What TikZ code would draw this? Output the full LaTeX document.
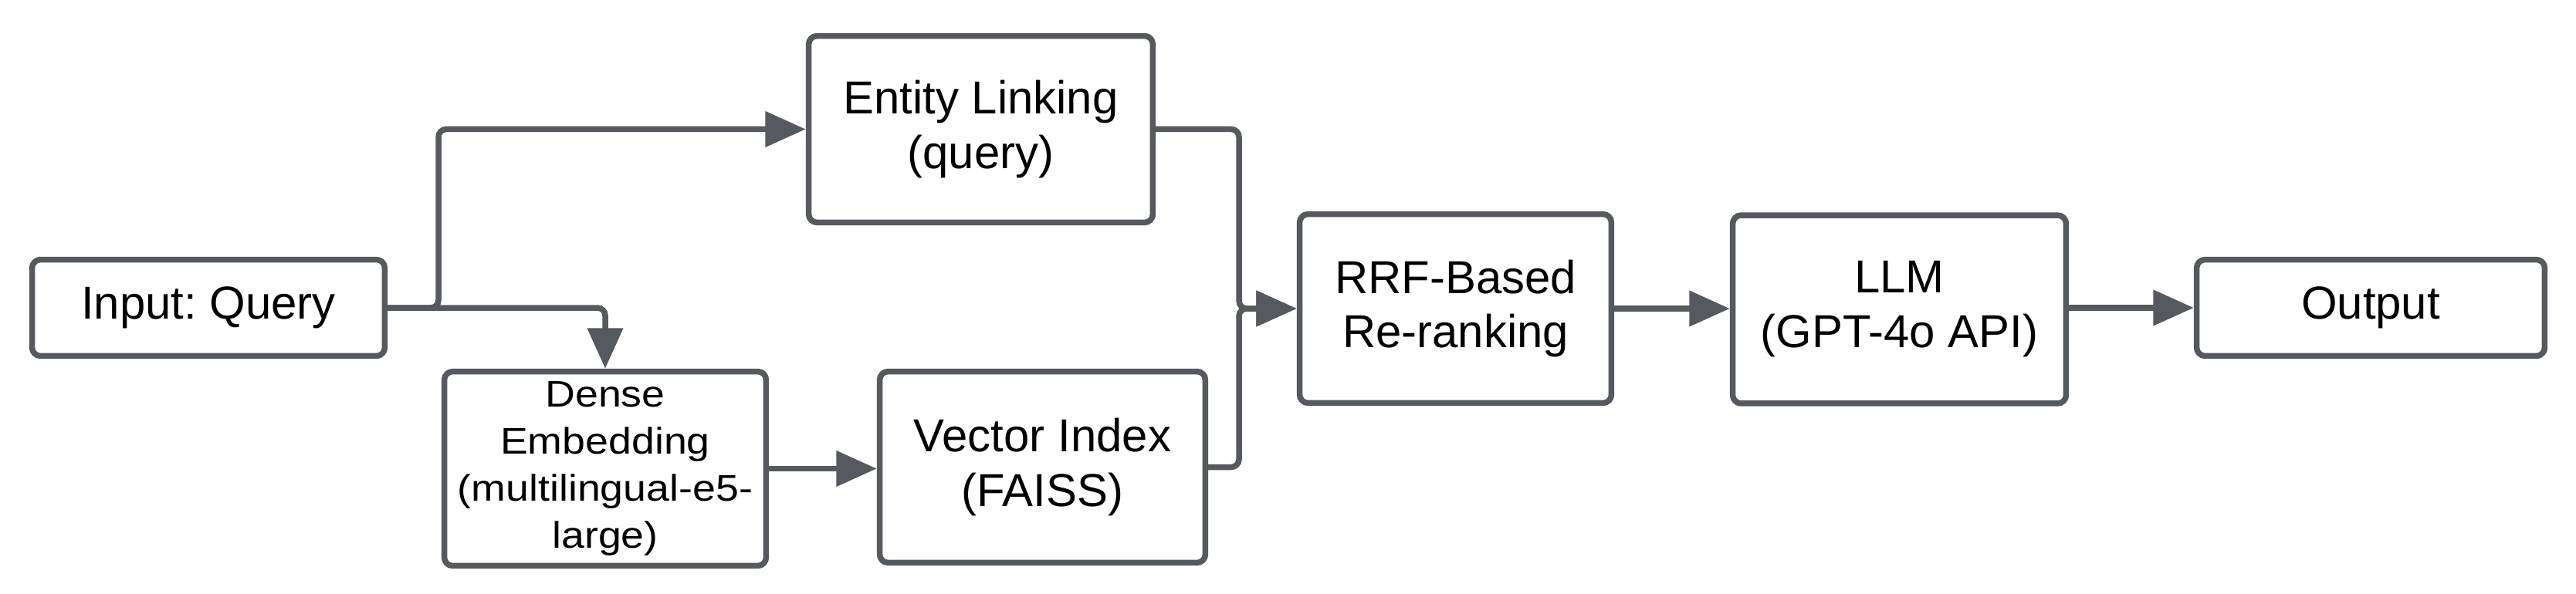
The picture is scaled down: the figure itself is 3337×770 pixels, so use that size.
\documentclass[tikz,border=0pt]{standalone}
\usepackage{fontspec}
\setmainfont{Liberation Sans}
\newfontfamily\denfont[FakeStretch=1.12]{Liberation Sans}
\usetikzlibrary{arrows.meta}
\definecolor{edgegray}{HTML}{56595E}
\newcommand\mainfs{\fontsize{34.1pt}{40.4pt}\selectfont}
\newcommand\denfs{\denfont\fontsize{27.3pt}{34.7pt}\selectfont}
\frenchspacing
\begin{document}
\begin{tikzpicture}[x=0.02cm,y=-0.02cm,
  box/.style={draw=edgegray, line width=0.15cm, rounded corners=0.22cm, fill=white,
    align=center, text=black, inner sep=0pt, font=\mainfs},
  conn/.style={draw=edgegray, line width=0.15cm, rounded corners=0.2cm,
    -{Triangle[length=1.05cm,width=0.9cm]}},
]
\useasboundingbox[fill=white] (0,0) rectangle (3337,770);

\node[box, minimum width=9.14cm, minimum height=2.5cm] (in) at (270,399) {Input: Query};
\node[box, minimum width=8.92cm, minimum height=4.84cm] (ent) at (1270.5,167.5) {Entity Linking\\(query)};
\node[box, minimum width=8.34cm, minimum height=5.04cm, font=\denfs] (den) at (784,607.5) {Dense\\Embedding\\(multilingual-e5-\\large)};
\node[box, minimum width=8.44cm, minimum height=4.96cm] (vec) at (1350.5,605.5) {Vector Index\\(FAISS)};
\node[box, minimum width=8.08cm, minimum height=4.90cm] (rrf) at (1885.5,400) {RRF-Based\\Re-ranking};
\node[box, minimum width=8.64cm, minimum height=4.88cm] (llm) at (2460.5,401) {LLM\\(GPT-4o API)};
\node[box, minimum width=9.02cm, minimum height=2.5cm] (out) at (3071,399) {Output};

\coordinate (j1) at (568,399);
\coordinate (j2) at (1605,400);

\draw[conn] (in.east) -- (j1) |- (ent.west);
\draw[conn] (in.east) -| (den.north);
\draw[conn] (den.east) -- (vec.west|-den.east);
\draw[conn] (ent.east) -| (j2) -- (rrf.west);
\draw[conn] (vec.east) -| (j2) -- (rrf.west);
\draw[conn] (rrf.east) -- (llm.west|-rrf.east);
\draw[conn] (llm.east|-out.west) -- (out.west);
\end{tikzpicture}
\end{document}
